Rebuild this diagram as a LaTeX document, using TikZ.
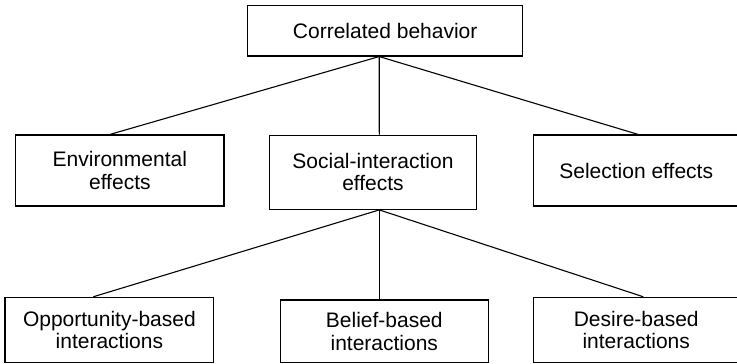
\documentclass[tikz,border=0pt]{standalone}
\usepackage{fontspec}
\setmainfont{Liberation Sans}
\begin{document}
\begin{tikzpicture}[x=1pt,y=-1pt,
  box/.style={draw, line width=1.1pt, inner sep=0pt, align=center,
    font=\fontsize{21}{22.5}\selectfont},
  link/.style={line width=1.1pt}]
\useasboundingbox (0,0) rectangle (737,364);

% top level
\node[box, minimum width=275, minimum height=50.3] (top) at (385.2,30.85) {Correlated behavior};

% middle level
\node[box, minimum width=208.3, minimum height=71] (env) at (119.85,170.5) {Environmental\\effects};
\node[box, minimum width=207.4, minimum height=74.3] (soc) at (373,172.2) {Social-interaction\\effects};
\node[box, minimum width=205.7, minimum height=71] (sel) at (636.2,170.5) {Selection effects};

% bottom level
\node[box, minimum width=208.8, minimum height=65.4] (opp) at (109.4,330) {Opportunity-based\\interactions};
\node[box, minimum width=208, minimum height=62.7] (bel) at (384.3,331.35) {Belief-based\\interactions};
\node[box, minimum width=205.5, minimum height=65.4] (des) at (636.2,330) {Desire-based\\interactions};

% junction points on the box edges
\coordinate (tj) at ([xshift=-6]top.south);
\coordinate (sj) at ([xshift=6.3]soc.south);

\draw[link] (tj) -- ([xshift=-10]env.north);
\draw[link] (tj) -- ([xshift=6.3]soc.north);
\draw[link] (tj) -- ([xshift=2]sel.north);

\draw[link] (sj) -- ([xshift=-16]opp.north);
\draw[link] (sj) -- ([xshift=-5]bel.north);
\draw[link] (sj) -- ([xshift=7]des.north);
\end{tikzpicture}
\end{document}
